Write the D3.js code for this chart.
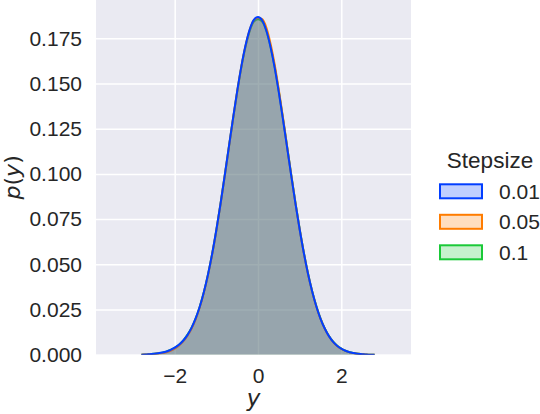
<!DOCTYPE html>
<html><head><meta charset="utf-8">
<script src="https://cdn.jsdelivr.net/npm/d3@7"></script>
<style>body{margin:0;background:#fff}svg{display:block}</style>
</head><body>
<svg id="c" width="540" height="414"></svg>
<script>
const series = ["0.01", "0.05", "0.1"];
const colors = ["#023eff", "#ff7c00", "#1ac938"];
const xs = [-2.8,-2.7,-2.6,-2.5,-2.4,-2.3,-2.2,-2.1,-2.0,-1.9,-1.8,-1.7,-1.6,-1.5,-1.4,-1.3,-1.2,-1.1,-1.0,-0.9,-0.8,-0.7,-0.6,-0.5,-0.4,-0.3,-0.2,-0.1,0.0,0.1,0.2,0.3,0.4,0.5,0.6,0.7,0.8,0.9,1.0,1.1,1.2,1.3,1.4,1.5,1.6,1.7,1.8,1.9,2.0,2.1,2.2,2.3,2.4,2.5,2.6,2.7,2.8];
const p001 = [0.0000,0.0001,0.0003,0.0005,0.0008,0.0012,0.0018,0.0027,0.0039,0.0055,0.0077,0.0107,0.0147,0.0199,0.0265,0.0347,0.0445,0.0560,0.0691,0.0835,0.0990,0.1149,0.1307,0.1458,0.1595,0.1710,0.1798,0.1852,0.1868,0.1850,0.1793,0.1703,0.1588,0.1451,0.1301,0.1145,0.0988,0.0836,0.0694,0.0564,0.0449,0.0351,0.0268,0.0200,0.0146,0.0104,0.0072,0.0049,0.0033,0.0022,0.0014,0.0009,0.0005,0.0003,0.0001,0.0000,0.0000];
const p005 = [0.0000,0.0001,0.0002,0.0004,0.0006,0.0009,0.0014,0.0022,0.0034,0.0050,0.0072,0.0102,0.0142,0.0194,0.0261,0.0343,0.0441,0.0556,0.0687,0.0832,0.0987,0.1146,0.1304,0.1455,0.1593,0.1708,0.1796,0.1850,0.1864,0.1856,0.1810,0.1722,0.1605,0.1464,0.1311,0.1150,0.0990,0.0837,0.0694,0.0563,0.0448,0.0350,0.0267,0.0199,0.0145,0.0103,0.0071,0.0048,0.0032,0.0021,0.0013,0.0008,0.0005,0.0003,0.0001,0.0000,0.0000];
const p01 = [0.0000,0.0001,0.0003,0.0005,0.0008,0.0011,0.0017,0.0026,0.0038,0.0054,0.0076,0.0108,0.0146,0.0198,0.0264,0.0345,0.0443,0.0557,0.0688,0.0833,0.0987,0.1145,0.1302,0.1452,0.1589,0.1703,0.1790,0.1842,0.1856,0.1842,0.1792,0.1705,0.1592,0.1456,0.1306,0.1149,0.0992,0.0839,0.0696,0.0565,0.0449,0.0351,0.0269,0.0201,0.0147,0.0105,0.0073,0.0050,0.0034,0.0022,0.0014,0.0009,0.0005,0.0003,0.0001,0.0000,0.0000];
const values = [p001, p005, p01];
const xTicks = [-2, 0, 2];
const yTicks = [0, 0.025, 0.05, 0.075, 0.1, 0.125, 0.15, 0.175];

const svg = d3.select("#c");
const L = 96, R = 411, T = 0, B = 354.7;
const x = d3.scaleLinear().domain([-2, 2]).range([174.7, 341.3]);
const y = d3.scaleLinear().domain([0, 0.175]).range([B, 38.3]);
const font = "'Liberation Sans', Arial, sans-serif";
const mfont = "'DejaVu Sans', sans-serif";

svg.append("rect").attr("x", L).attr("y", T).attr("width", R - L).attr("height", B - T).attr("fill", "#eaeaf2");
const clip = svg.append("clipPath").attr("id", "pc");
clip.append("rect").attr("x", L).attr("y", T).attr("width", R - L).attr("height", B - T);

const xAxis = svg.append("g").attr("transform", `translate(0,${B})`)
  .call(d3.axisBottom(x).tickValues(xTicks).tickSize(0).tickPadding(13).tickFormat(d => d3.format("")(d).replace("-", "\u2212")));
xAxis.select(".domain").remove();
xAxis.selectAll(".tick line").clone().attr("y2", T - B).attr("stroke", "#fff").attr("stroke-width", 1.5);
xAxis.selectAll("text").attr("font-family", font).attr("font-size", 21).attr("fill", "#262626");

const yAxis = svg.append("g").attr("transform", `translate(${L},0)`)
  .call(d3.axisLeft(y).tickValues(yTicks).tickSize(0).tickPadding(14).tickFormat(d3.format(".3f")));
yAxis.select(".domain").remove();
yAxis.selectAll(".tick line").clone().attr("x2", R - L).attr("stroke", "#fff").attr("stroke-width", 1.5);
yAxis.selectAll("text").attr("font-family", font).attr("font-size", 21).attr("fill", "#262626");

const g = svg.append("g").attr("clip-path", "url(#pc)");
const area = d3.area().x((d, i) => x(xs[i])).y0(y(0)).y1(d => y(d)).curve(d3.curveMonotoneX);
const line = d3.line().x((d, i) => x(xs[i])).y(d => y(d)).curve(d3.curveMonotoneX);
for (let k = series.length - 1; k >= 0; k--) {
  g.append("path").attr("d", area(values[k])).attr("fill", colors[k]).attr("fill-opacity", 0.25);
  g.append("path").attr("d", line(values[k])).attr("fill", "none").attr("stroke", colors[k]).attr("stroke-width", 2);
}

svg.append("text").attr("x", (L + R) / 2).attr("y", 406).attr("text-anchor", "middle")
  .attr("font-family", mfont).attr("font-size", 23).attr("font-style", "italic").attr("fill", "#262626").text("y");
const yl = svg.append("text").attr("transform", `translate(20,${(T + B) / 2}) rotate(-90)`).attr("text-anchor", "middle")
  .attr("font-family", mfont).attr("font-size", 22).attr("fill", "#262626");
yl.append("tspan").attr("font-style", "italic").text("p");
yl.append("tspan").text("(");
yl.append("tspan").attr("font-style", "italic").text("y");
yl.append("tspan").text(")");

const lg = svg.append("g");
lg.append("text").attr("x", 490).attr("y", 168).attr("text-anchor", "middle")
  .attr("font-family", font).attr("font-size", 22.5).attr("fill", "#262626").text("Stepsize");
series.forEach((s, i) => {
  const yy = 184.3 + i * 30.5;
  lg.append("rect").attr("x", 440).attr("y", yy).attr("width", 42).attr("height", 14)
    .attr("fill", colors[i]).attr("fill-opacity", 0.25).attr("stroke", colors[i]).attr("stroke-width", 2);
  lg.append("text").attr("x", 499).attr("y", yy + 14.5).attr("font-family", font).attr("font-size", 21)
    .attr("fill", "#262626").text(s);
});
</script>
</body></html>
